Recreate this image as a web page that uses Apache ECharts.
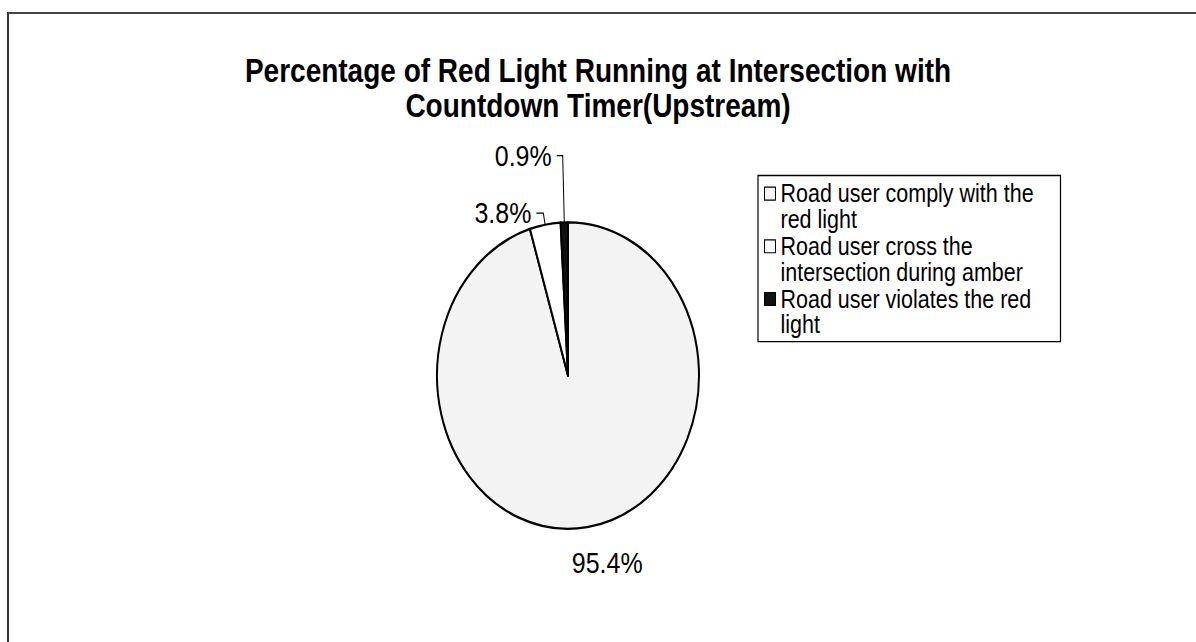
<!DOCTYPE html>
<html>
<head>
<meta charset="utf-8">
<title>Red light running - countdown timer (upstream)</title>
<script src="https://cdn.jsdelivr.net/npm/echarts@6/dist/echarts.min.js"></script>
<style>
  html, body { margin: 0; padding: 0; background: #fff; overflow: hidden; }
  /* scanned sheet frame: only top and left edges are visible */
  #frame {
    position: absolute; left: 7px; top: 12px; width: 1300px; height: 700px;
    border-top: 2px solid #444; border-left: 2px solid #333;
  }
  /* the scan is stretched vertically, so the pie reads as an ellipse */
  #chart {
    position: absolute; left: 0; top: 0; width: 1196px; height: 549px;
    transform: scaleY(1.17); transform-origin: 0 0;
  }
</style>
</head>
<body>
<div id="frame"></div>
<div id="chart"></div>
<script>
// data
const titleText = 'Percentage of Red Light Running at Intersection with\nCountdown Timer(Upstream)';
const categories = [
  'Road user comply with the red light',
  'Road user cross the intersection during amber',
  'Road user violates the red light'
];
const percentages = [95.4, 3.8, 0.9];

// look of each slice / leader line / label nudge
const sliceColors = ['#f3f3f3', '#ffffff', '#111111'];
const leaderShow = [false, true, true];
const leaderLen = [31, 10, 57];
const leaderLen2 = [0, 7, 6];
const labelNudge = [[-25, 0], [0, 0], [0, 0]];

const font = '"Liberation Sans", Arial, sans-serif';

const pieData = categories.map(function (name, i) {
  return {
    name: name,
    value: percentages[i],
    itemStyle: { color: sliceColors[i] },
    labelLine: { show: leaderShow[i], length: leaderLen[i], length2: leaderLen2[i] }
  };
});

const chart = echarts.init(document.getElementById('chart'), null, { renderer: 'svg' });

chart.setOption({
  animation: false,
  title: {
    text: titleText,
    left: 'center',
    top: 40,
    padding: [5, 25, 5, 5],
    textStyle: {
      fontFamily: font,
      fontWeight: 'bold',
      fontSize: 28,
      lineHeight: 30,
      color: '#000'
    }
  },
  legend: {
    orient: 'vertical',
    left: 758,
    top: 150,
    padding: [4, 8, 3, 6],
    borderColor: '#000',
    borderWidth: 1.2,
    itemGap: 0,
    itemWidth: 11,
    itemHeight: 44,
    // square sits on the first of the two text lines
    icon: 'path://M0,5H10V15H0Z M0,0 M0,40',
    selectedMode: false,
    itemStyle: { borderColor: '#000', borderWidth: 1 },
    textStyle: {
      fontFamily: font,
      fontSize: 21.5,
      lineHeight: 22,
      color: '#000',
      width: 272,
      overflow: 'break'
    }
  },
  series: [
    {
      name: 'Red light running',
      type: 'pie',
      center: [568, 321],
      radius: 131,
      startAngle: 90,
      clockwise: true,
      avoidLabelOverlap: false,
      itemStyle: { borderColor: '#000', borderWidth: 2 },
      label: {
        show: true,
        position: 'outside',
        formatter: '{c}%',
        fontFamily: font,
        fontSize: 25,
        color: '#000'
      },
      labelLine: {
        lineStyle: { color: '#000', width: 1 }
      },
      labelLayout: function (p) {
        return { dx: labelNudge[p.dataIndex][0], dy: labelNudge[p.dataIndex][1] };
      },
      emphasis: { disabled: true },
      data: pieData
    }
  ]
});
</script>
</body>
</html>
